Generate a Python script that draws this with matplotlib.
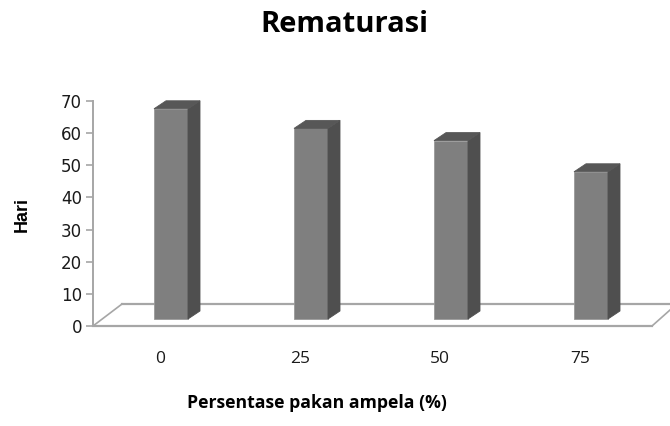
import numpy as np
import matplotlib
matplotlib.use("Agg")
from matplotlib import pyplot as plt
from matplotlib.patches import Polygon

# rematurasi (days) for each ampela feed percentage
categories = ["0", "25", "50", "75"]
hari = [65.4, 59.3, 55.5, 45.8]
yticks = [0, 10, 20, 30, 40, 50, 60, 70]

W, H = 670, 426
fig = plt.figure(figsize=(W / 100, H / 100), dpi=100)

# plot box in pixels: x 93..670, y 101 (70) .. 326 (0)
left, right, top, bottom = 93, 670, 101, 326
ax = fig.add_axes([left / W, 1 - bottom / H, (right - left) / W, (bottom - top) / H])

px = 140.0                       # pixels per category
ppv = (bottom - top) / 70.0      # pixels per value unit
x0 = (left - 160) / px
x1 = (right - 160) / px
ax.set_xlim(x0, x1)
ax.set_ylim(0, 70)

# 3d offsets
ddx = 12 / px
ddy = 8 / ppv
base = 7 / ppv
shift = 11 / px
bw = 34 / px

line_c = "#a6a6a6"

# floor
fx_back = (122 - 160) / px
fy_back = 22 / ppv
fx_front_r = (652 - 160) / px
ax.plot([x0, fx_front_r], [0, 0], color=line_c, lw=1.6, clip_on=False, zorder=1)
ax.plot([fx_back, x1 + 0.2], [fy_back, fy_back], color=line_c, lw=1.6, zorder=1)
ax.plot([x0, fx_back], [0, fy_back], color=line_c, lw=1.2, zorder=1)
ax.plot([fx_front_r, fx_front_r + 18 / px * 1.6], [0, 16 / ppv * 1.6], color=line_c, lw=1.2, zorder=1)

# bars
xs = np.arange(len(categories))
for x, v in zip(xs, hari):
    xl = x + shift - bw / 2
    xr = x + shift + bw / 2
    yb = base
    yt = base + v
    front = Polygon([(xl, yb), (xr, yb), (xr, yt), (xl, yt)], closed=True,
                    facecolor="#7f7f7f", edgecolor="#9a9a9a", lw=0.6, zorder=3)
    side = Polygon([(xr, yb), (xr + ddx, yb + ddy), (xr + ddx, yt + ddy), (xr, yt)],
                   closed=True, facecolor="#4f4f4f", edgecolor="#4f4f4f", lw=0.6, zorder=3)
    topf = Polygon([(xl, yt), (xr, yt), (xr + ddx, yt + ddy), (xl + ddx, yt + ddy)],
                   closed=True, facecolor="#575757", edgecolor="#575757", lw=0.6, zorder=3)
    for p in (front, side, topf):
        p.set_clip_on(False)
        ax.add_patch(p)

# axes styling
for s in ["top", "right", "bottom"]:
    ax.spines[s].set_visible(False)
ax.spines["left"].set_color(line_c)
ax.spines["left"].set_linewidth(1.4)
ax.set_yticks(yticks)
ax.set_yticklabels([str(t) for t in yticks], fontsize=12, color="#1a1a1a",
                   family="DejaVu Sans")
ax.tick_params(axis="y", length=5, width=1.2, color=line_c, pad=3)
ax.set_xticks(xs)
ax.set_xticklabels(categories, fontsize=12.5, family="Open Sans", color="#1a1a1a")
ax.tick_params(axis="x", length=0, pad=18)

fig.text(344 / W, 1 - 25 / H, "Rematurasi", ha="center", va="center",
         fontsize=21, fontweight="bold", family="Open Sans")
fig.text(317 / W, 1 - 403 / H, "Persentase pakan ampela (%)", ha="center", va="center",
         fontsize=12.7, fontweight="bold", family="Open Sans")
fig.text(22 / W, 1 - 215 / H, "Hari", ha="center", va="center", rotation=90,
         fontsize=13, fontweight="bold", family="Liberation Sans")

fig.savefig("out.png", dpi=100)
